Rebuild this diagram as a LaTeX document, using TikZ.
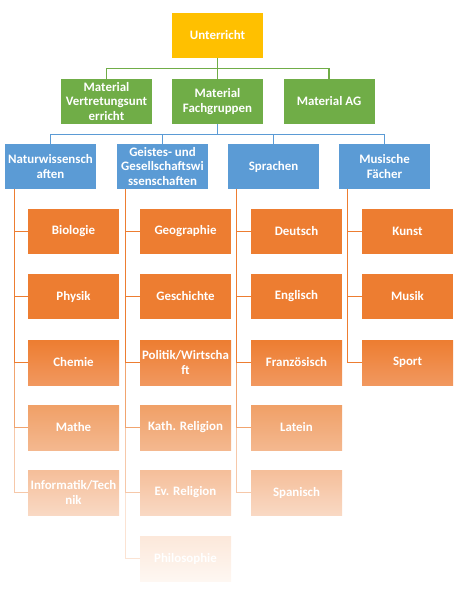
\documentclass[tikz,border=0pt]{standalone}
\usepackage{fontspec}
\setmainfont{Carlito}
\definecolor{cTop}{HTML}{FFC000}
\definecolor{cGreen}{HTML}{70AD47}
\definecolor{cBlue}{HTML}{5B9BD5}
\definecolor{cOr}{HTML}{ED7D31}
\definecolor{oAa}{HTML}{ED7D31}\definecolor{oAb}{HTML}{F1985F}
\definecolor{oBa}{HTML}{F0A067}\definecolor{oBb}{HTML}{F4B88F}
\definecolor{oCa}{HTML}{F5BE99}\definecolor{oCb}{HTML}{F9D9C4}
\definecolor{oDa}{HTML}{FCE8DA}\definecolor{oDb}{HTML}{FEF7F2}
\definecolor{lB}{HTML}{F1A46F}
\definecolor{lC}{HTML}{F6C8A9}
\definecolor{lD}{HTML}{FBE3D3}
\tikzset{
  box/.style={minimum width=91pt,minimum height=45pt,inner sep=1pt,align=center,
    text=white,font=\fontsize{12.9}{14.7}\selectfont\bfseries},
  topbox/.style={box,fill=cTop},
  gbox/.style={box,fill=cGreen},
  bbox/.style={box,fill=cBlue},
  obox/.style={box,fill=cOr},
  oboxA/.style={box,top color=oAa,bottom color=oAb},
  oboxB/.style={box,top color=oBa,bottom color=oBb},
  oboxC/.style={box,top color=oCa,bottom color=oCb},
  oboxD/.style={box,top color=oDa,bottom color=oDb},
  gline/.style={draw=cGreen,line width=1.1pt},
  bline/.style={draw=cBlue,line width=1.1pt},
  oline/.style={draw=cOr,line width=1pt},
}
\begin{document}
\begin{tikzpicture}[x=1pt,y=-1pt]
\useasboundingbox (0,0) rectangle (459,601);
\node[topbox] (top) at (217.5,35.5) {Unterricht};
\node[gbox] (g1) at (106.5,101.5) {Material\\Vertretungsunt\\erricht};
\node[gbox] (g2) at (217.5,101.5) {Material\\Fachgruppen};
\node[gbox] (g3) at (329,101.5) {Material AG};
\node[bbox] (b1) at (50.5,166.5) {Naturwissensch\\aften};
\node[bbox] (b2) at (162.5,166.5) {Geistes- und\\Gesellschaftswi\\ssenschaften};
\node[bbox] (b3) at (273.5,166.5) {Sprachen};
\node[bbox] (b4) at (384.5,166.5) {Musische\\Fächer};
% column 1
\node[obox] (c11) at (73.5,231.5) {Biologie};
\node[obox] (c12) at (73.5,296.5) {Physik};
\node[oboxA] (c13) at (73.5,362.5) {Chemie};
\node[oboxB] (c14) at (73.5,427.5) {Mathe};
\node[oboxC] (c15) at (73.5,492.5) {Informatik/Tech\\nik};
% column 2
\node[obox] (c21) at (185.5,231.5) {Geographie};
\node[obox] (c22) at (185.5,296.5) {Geschichte};
\node[oboxA] (c23) at (185.5,362.5) {Politik/Wirtscha\\ft};
\node[oboxB] (c24) at (185.5,427.5) {Kath. Religion};
\node[oboxC] (c25) at (185.5,492.5) {Ev. Religion};
\node[oboxD] (c26) at (185.5,558.5) {Philosophie};
% column 3
\node[obox] (c31) at (296.5,231.5) {Deutsch};
\node[obox] (c32) at (296.5,296.5) {Englisch};
\node[oboxA] (c33) at (296.5,362.5) {Französisch};
\node[oboxB] (c34) at (296.5,427.5) {Latein};
\node[oboxC] (c35) at (296.5,492.5) {Spanisch};
% column 4
\node[obox] (c41) at (407.5,231.5) {Kunst};
\node[obox] (c42) at (407.5,296.5) {Musik};
\node[oboxA] (c43) at (407.5,362.5) {Sport};
% connectors level 1
\draw[gline] (top.south) -- ++(0,10.5) -| (g1.north);
\draw[gline] (top.south) -- (g2.north);
\draw[gline] (top.south) -- ++(0,10.5) -| (g3.north);
% level 2
\draw[bline] (g2.south) -- ++(0,10.5) -| (b1.north);
\draw[bline] (g2.south) -- ++(0,10.5) -| (b2.north);
\draw[bline] (g2.south) -- ++(0,10.5) -| (b3.north);
\draw[bline] (g2.south) -- ++(0,10.5) -| (b4.north);
% level 3 (far first, lighter)
\draw[oline,draw=lC] ([xshift=9.5pt]b1.south west) |- (c15.west);
\draw[oline,draw=lB] ([xshift=9.5pt]b1.south west) |- (c14.west);
\draw[oline] ([xshift=9.5pt]b1.south west) |- (c13.west);
\draw[oline] ([xshift=9.5pt]b1.south west) |- (c12.west);
\draw[oline] ([xshift=9.5pt]b1.south west) |- (c11.west);
\draw[oline,draw=lD] ([xshift=9pt]b2.south west) |- (c26.west);
\draw[oline,draw=lC] ([xshift=9pt]b2.south west) |- (c25.west);
\draw[oline,draw=lB] ([xshift=9pt]b2.south west) |- (c24.west);
\draw[oline] ([xshift=9pt]b2.south west) |- (c23.west);
\draw[oline] ([xshift=9pt]b2.south west) |- (c22.west);
\draw[oline] ([xshift=9pt]b2.south west) |- (c21.west);
\draw[oline,draw=lC] ([xshift=9pt]b3.south west) |- (c35.west);
\draw[oline,draw=lB] ([xshift=9pt]b3.south west) |- (c34.west);
\draw[oline] ([xshift=9pt]b3.south west) |- (c33.west);
\draw[oline] ([xshift=9pt]b3.south west) |- (c32.west);
\draw[oline] ([xshift=9pt]b3.south west) |- (c31.west);
\draw[oline] ([xshift=9pt]b4.south west) |- (c43.west);
\draw[oline] ([xshift=9pt]b4.south west) |- (c42.west);
\draw[oline] ([xshift=9pt]b4.south west) |- (c41.west);
\end{tikzpicture}
\end{document}
